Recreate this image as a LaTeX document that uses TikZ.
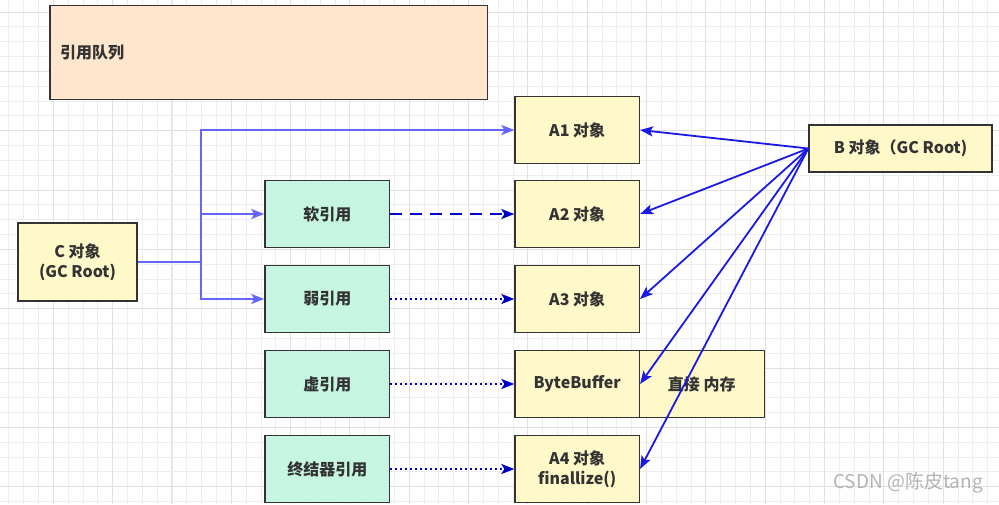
\documentclass[tikz,border=0pt]{standalone}
\usepackage{fontspec}
\setmainfont{Noto Sans CJK SC}
\usetikzlibrary{arrows.meta}
\definecolor{peach}{HTML}{FFE6CC}
\definecolor{objyellow}{HTML}{FFF9C9}
\definecolor{refgreen}{HTML}{C6F5E2}
\definecolor{bordergray}{HTML}{333333}
\definecolor{txtgray}{HTML}{333333}
\definecolor{lightblue}{HTML}{6666FF}
\definecolor{darkblue}{HTML}{0000CC}
\definecolor{bblue}{HTML}{1A1AE6}
\definecolor{gridminor}{HTML}{EEEEEE}
\definecolor{gridmajor}{HTML}{E0E0E0}
\definecolor{wmgray}{HTML}{B4B4B4}
\begin{document}
\begin{tikzpicture}[x=1pt,y=-1pt,
  box/.style={draw=bordergray, line width=1.4pt, rectangle, inner sep=0pt, align=center,
    text=txtgray, font=\fontsize{16pt}{20pt}\selectfont\bfseries},
  objbox/.style={box, fill=objyellow, minimum width=124.3pt, minimum height=66.6pt},
  refbox/.style={box, fill=refgreen, minimum width=124.7pt, minimum height=67pt},
  tip/.style={-{Stealth[length=13pt,width=10pt,inset=3pt]}},
  cline/.style={tip, draw=lightblue, line width=1.5pt},
  softline/.style={tip, draw=darkblue, line width=2pt, dash pattern=on 12pt off 8pt},
  dotline/.style={tip, draw=darkblue, line width=2pt, dash pattern=on 2pt off 3pt},
  bline/.style={tip, draw=bblue, line width=1.8pt},
  minorgrid/.style={draw=gridminor, line width=0.8pt},
  majorgrid/.style={draw=gridmajor, line width=0.9pt}
]
\useasboundingbox (0,0) rectangle (999,504);
\fill[white] (0,0) rectangle (999,504);
% grid
\foreach \i in {0,...,67} {\draw[minorgrid] ({8.8+14.83*\i},0) -- ++(0,504);}
\foreach \i in {0,...,33} {\draw[minorgrid] (0,{12.0+14.83*\i}) -- ++(999,0);}
\foreach \i in {0,...,16} {\draw[majorgrid] ({53.3+59.32*\i},0) -- ++(0,504);}
\foreach \i in {0,...,8} {\draw[majorgrid] (0,{12.1+59.32*\i}) -- ++(999,0);}

% boxes
\node[box, fill=peach, minimum width=437.7pt, minimum height=93.6pt, text width=417.7pt, align=left]
  (queue) at (268.9,52.5) {\raisebox{-2pt}{引用队列}};
\node[box, fill=objyellow, minimum width=119pt, minimum height=78pt] (C) at (77.5,262) {C 对象\\(GC Root)};
\node[box, fill=objyellow, minimum width=183pt, minimum height=47pt] (B) at (900.5,148.5) {B 对象（GC Root)};

\node[objbox] (A1) at (577.2,130) {A1 对象};
\node[objbox] (A2) at (577.2,214) {A2 对象};
\node[objbox] (A3) at (577.2,299) {A3 对象};
\node[objbox] (BB) at (577.2,384) {ByteBuffer};
\node[objbox, minimum width=125pt] (DM) at (701.8,384) {直接 内存};
\node[objbox] (A4) at (577.2,469) {A4 对象\\finallize()};

\node[refbox] (soft) at (327.3,214) {软引用};
\node[refbox] (weak) at (327.3,299) {弱引用};
\node[refbox] (phantom) at (327.3,384) {虚引用};
\node[refbox] (final) at (327.3,469) {终结器引用};

% connectors from C
\coordinate (j) at (201,262);
\draw[draw=lightblue, line width=1.5pt] (C.east) -- (j);
\draw[cline] (j) |- (A1.west);
\draw[cline] (j) |- (soft.west);
\draw[cline] (j) |- (weak.west);

% reference connectors
\draw[softline] (soft.east) -- (A2.west);
\draw[dotline] (weak.east) -- (A3.west);
\draw[dotline] (phantom.east) -- (BB.west);
\draw[dotline] (final.east) -- (A4.west);

% B connectors
\draw[bline] (B.west) -- (A1.east);
\draw[bline] (B.west) -- (A2.east);
\draw[bline] (B.west) -- (A3.east);
\draw[bline] (B.west) -- (BB.east);
\draw[bline] (B.west) -- (A4.east);

% watermark
\node[text=wmgray, font=\fontsize{19pt}{22pt}\selectfont, inner sep=0pt] (wm) at (908,483) {CSDN @陈皮tang};
\end{tikzpicture}
\end{document}
